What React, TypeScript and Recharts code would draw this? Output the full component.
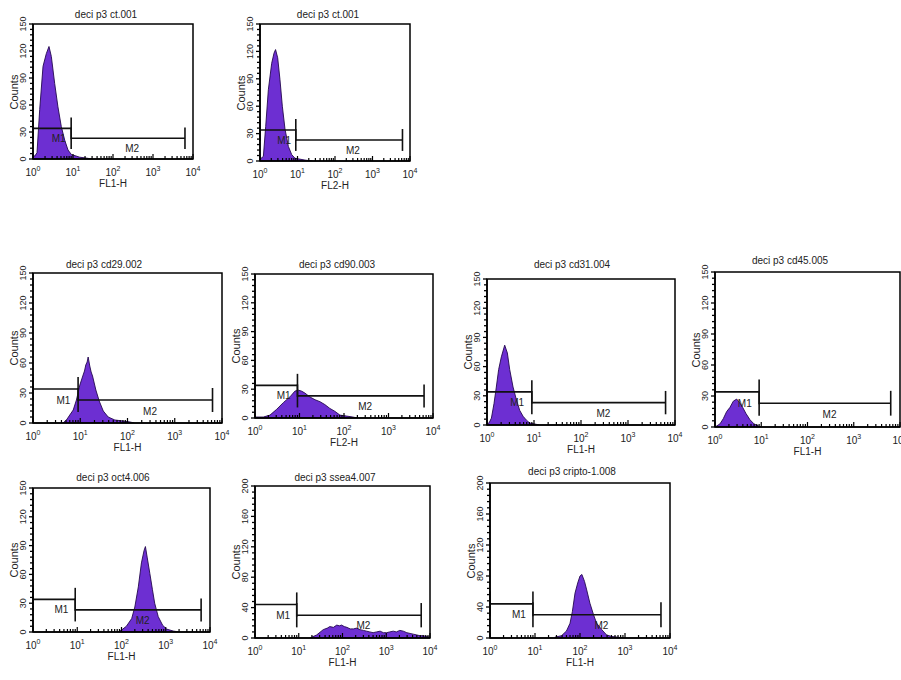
import React from 'react';
import { ComposedChart, Area, XAxis, YAxis, ReferenceLine, ReferenceArea, ReferenceDot } from 'recharts';

const FONT = "'Liberation Sans Narrow', 'Liberation Sans', Arial, sans-serif";
const FILL = '#6d2fd2';
const EDGE = '#24084f';

// ---------- data ----------
const panelTitles = [
  'deci p3 ct.001', 'deci p3 ct.001', 'deci p3 cd29.002', 'deci p3 cd90.003', 'deci p3 cd31.004',
  'deci p3 cd45.005', 'deci p3 oct4.006', 'deci p3 ssea4.007', 'deci p3 cripto-1.008',
];
const xAxisNames = ['FL1-H', 'FL2-H', 'FL1-H', 'FL2-H', 'FL1-H', 'FL1-H', 'FL1-H', 'FL1-H', 'FL1-H'];
const yMaxima = [150, 150, 150, 150, 150, 150, 150, 200, 200];
const markerNames = ['M1', 'M2'];
const markerStart = [1, 9];
const markerEnd = [9, 6300];

const ct001Fl1X = [1, 1.1, 1.26, 1.47, 1.78, 2.15, 2.51, 2.87, 3.48, 4.2, 5.1, 6.2, 7.5, 9.1, 14.7, 21.5, 30];
const ct001Fl1Y = [5, 3, 7, 55, 103, 117, 125, 114, 84, 58, 36, 21, 10, 5, 2, 1, 0];

const ct001Fl2X = [1, 1.23, 1.42, 1.67, 2.05, 2.36, 2.6, 2.96, 3.41, 3.94, 4.64, 5.7, 7.0, 8.57, 15.8, 25];
const ct001Fl2Y = [2, 5, 38, 78, 107, 118, 122, 113, 89, 60, 35, 16, 7, 3, 1, 0];

const cd29X = [4.3, 5.1, 6.0, 7.1, 8.3, 9.8, 11.5, 12.3, 13.1, 14.0, 14.7, 15.9, 17.0, 18.2, 21.4, 25.2, 30.7, 39, 54, 81, 113, 140];
const cd29Y = [0, 3, 8, 13, 23, 38, 48, 52, 58, 61, 66, 57, 51, 47, 33, 22, 12, 6, 3, 2, 1, 0];

const cd90X = [1, 1.54, 2.17, 3.06, 4.33, 6.1, 7.9, 9.4, 11.1, 13.2, 17, 22.4, 28.8, 37, 48, 62, 81, 115, 158, 200];
const cd90Y = [1, 1, 3, 9, 16, 22, 28, 29, 28, 26, 22, 19, 17, 14, 10, 7, 3, 2, 1, 0];

const cd31X = [1, 1.1, 1.24, 1.41, 1.58, 1.77, 2.02, 2.38, 2.71, 3.04, 3.58, 4.22, 4.97, 5.85, 6.89, 8.11, 10.4, 13];
const cd31Y = [1, 2, 7, 22, 39, 57, 70, 82, 74, 57, 39, 26, 15, 9, 5, 2, 1, 0];

const cd45X = [1, 1.09, 1.28, 1.51, 1.79, 2.11, 2.49, 2.94, 3.36, 3.96, 4.68, 5.71, 6.97, 8.65, 10];
const cd45Y = [0, 1, 3, 8, 15, 19, 25, 27, 24, 19, 13, 7, 3, 1, 0];

const oct4X = [84, 100, 129, 170, 200, 240, 282, 324, 347, 380, 437, 501, 562, 676, 851, 1047, 1479, 2000];
const oct4Y = [0, 2, 6, 14, 26, 47, 72, 85, 89, 78, 61, 44, 30, 16, 7, 3, 1, 0];

const ssea4X = [18, 25.7, 36.3, 45, 51.3, 62, 74, 85, 95, 110, 126, 150, 178, 210, 251, 300, 355, 420, 501, 600, 724, 860, 1023, 1200, 1445, 1700, 2042, 2450, 2951, 3500, 4169, 5000, 5888, 7000, 8318, 10000];
const ssea4Y = [0, 4, 11, 13, 15, 14, 17, 16, 17, 15, 14, 12, 12, 13, 11, 10, 9, 8, 7, 8, 9, 7, 7, 8, 9, 8, 10, 9, 7, 6, 5, 4, 3, 3, 2, 1];

const criptoX = [27.5, 38.9, 50, 60, 67.6, 77.6, 89, 100, 110, 126, 141, 166, 200, 234, 302, 389, 501, 708, 900];
const criptoY = [1, 3, 9, 19, 34, 58, 71, 80, 82, 73, 62, 45, 30, 19, 11, 4, 2, 1, 0];

const seriesX = [ct001Fl1X, ct001Fl2X, cd29X, cd90X, cd31X, cd45X, oct4X, ssea4X, criptoX];
const seriesY = [ct001Fl1Y, ct001Fl2Y, cd29Y, cd90Y, cd31Y, cd45Y, oct4Y, ssea4Y, criptoY];

// ---------- layout (plot boxes in page pixels) ----------
const boxes = [
  { L: 33, T: 24, R: 193, B: 159, tx: 106, ty: 15 },
  { L: 260, T: 24, R: 410, B: 161, tx: 328, ty: 15 },
  { L: 33, T: 273, R: 222, B: 423, tx: 104, ty: 265 },
  { L: 255, T: 274, R: 433, B: 418, tx: 337, ty: 265 },
  { L: 487, T: 279, R: 675, B: 425, tx: 572, ty: 265 },
  { L: 715, T: 272, R: 900, B: 427, tx: 790, ty: 261 },
  { L: 33, T: 488, R: 210, B: 632, tx: 113, ty: 478 },
  { L: 255, T: 486, R: 430, B: 638, tx: 335, ty: 478 },
  { L: 490, T: 483, R: 670, B: 638, tx: 572, ty: 472 },
];

const xTickList: number[] = [];
for (let d = 0; d < 4; d++) for (let k = 1; k <= 9; k++) xTickList.push(k * Math.pow(10, d));
xTickList.push(10000);

const XTick = (props: any) => {
  const { x, y, payload } = props;
  const v = payload.value;
  const lg = Math.log10(v);
  const exp = Math.round(lg);
  const major = Math.abs(lg - exp) < 1e-6;
  return (
    <g>
      <line x1={x} x2={x} y1={y} y2={y - (major ? 5 : 3)} stroke="#000" strokeWidth={1.2} />
      {major && (
        <text x={x} y={y + 17} textAnchor="middle" fontSize={10} fontFamily={FONT} fill="#222">
          10<tspan dy={-5} fontSize={7}>{exp}</tspan>
        </text>
      )}
    </g>
  );
};

const makeYTick = (majorStep: number) => (props: any) => {
  const { x, y, payload } = props;
  const v = payload.value;
  const major = v % majorStep === 0;
  return (
    <g>
      <line x1={x} x2={x - (major ? 4 : 3)} y1={y} y2={y} stroke="#000" strokeWidth={1.3} />
      {major && (
        <text transform={`translate(${x - 7},${y}) rotate(-90)`} textAnchor="middle" fontSize={9} fontFamily={FONT} fill="#222">
          {v}
        </text>
      )}
    </g>
  );
};

function Panel({ idx }: { idx: number }) {
  const box = boxes[idx];
  const yMax = yMaxima[idx];
  const majorStep = yMax === 150 ? 30 : 40;
  const minorStep = yMax === 150 ? 6 : 8;
  const yTickList: number[] = [];
  for (let v = 0; v <= yMax; v += minorStep) yTickList.push(v);
  const m1 = yMax === 150 ? 34 : 44;
  const m2 = yMax === 150 ? 23 : 30;
  const half = yMax === 150 ? 12 : 16;
  const labelDrop = yMax === 150 ? 11 : 14;
  const padL = 30, padT = 12, padR = 14, padB = 34;
  const w = box.R - box.L + padL + padR;
  const h = box.B - box.T + padT + padB;
  const data = seriesX[idx].map((x, i) => ({ x, y: seriesY[idx][i] }));
  const levels = [m1, m2];
  const YTick = makeYTick(majorStep);
  const line = { stroke: '#111', strokeWidth: 1.6, ifOverflow: 'visible' as const };
  return (
    <>
      <div style={{ position: 'absolute', left: box.L - padL, top: box.T - padT, width: w, height: h }}>
        <ComposedChart width={w} height={h} data={data} margin={{ top: padT, right: padR, bottom: 0, left: 0 }}>
          <XAxis dataKey="x" type="number" scale="log" domain={[1, 10000]} allowDataOverflow ticks={xTickList}
            interval={0} tick={<XTick />} tickSize={0} tickMargin={0} tickLine={false} height={padB}
            axisLine={{ stroke: '#000', strokeWidth: 1.6 }} />
          <YAxis type="number" domain={[0, yMax]} allowDataOverflow ticks={yTickList} interval={0}
            tick={<YTick />} tickSize={0} tickMargin={0} tickLine={false} width={padL}
            axisLine={{ stroke: '#000', strokeWidth: 1.6 }} />
          <Area dataKey="y" type="linear" fill={FILL} fillOpacity={1} stroke={EDGE} strokeWidth={0.9}
            isAnimationActive={false} dot={false} activeDot={false} />
          <ReferenceArea x1={1} x2={10000} y1={0} y2={yMax} fill="none" stroke="#000" strokeWidth={1.5} ifOverflow="visible" />
          {levels.map((lv, k) => (
            <ReferenceLine key={'h' + k} segment={[{ x: markerStart[k], y: lv }, { x: markerEnd[k], y: lv }]} {...line} />
          ))}
          {levels.map((lv, k) => (
            <ReferenceLine key={'a' + k} segment={[{ x: markerStart[k], y: lv - half }, { x: markerStart[k], y: lv + half }]} {...line} />
          ))}
          {levels.map((lv, k) => (
            <ReferenceLine key={'b' + k} segment={[{ x: markerEnd[k], y: lv - half }, { x: markerEnd[k], y: lv + half }]} {...line} />
          ))}
          <ReferenceDot x={4.4} y={m2} r={0} fill="none" stroke="none" ifOverflow="visible"
            label={{ value: markerNames[0], position: 'center', fontSize: 10, fill: '#222', fontFamily: FONT }} />
          <ReferenceDot x={300} y={m2 - labelDrop} r={0} fill="none" stroke="none" ifOverflow="visible"
            label={{ value: markerNames[1], position: 'center', fontSize: 10, fill: '#222', fontFamily: FONT }} />
        </ComposedChart>
      </div>
      <div style={{ position: 'absolute', left: box.tx - 80, top: box.ty - 7, width: 160, textAlign: 'center', fontSize: 10, lineHeight: '14px', fontFamily: FONT, color: '#222', whiteSpace: 'nowrap' }}>
        {panelTitles[idx]}
      </div>
      <div style={{ position: 'absolute', left: (box.L + box.R) / 2 - 40, top: box.B + 18, width: 80, textAlign: 'center', fontSize: 10, lineHeight: '14px', fontFamily: FONT, color: '#222' }}>
        {xAxisNames[idx]}
      </div>
      <div style={{ position: 'absolute', left: box.L - 19 - 30, top: (box.T + box.B) / 2 - 7, width: 60, textAlign: 'center', fontSize: 11, lineHeight: '14px', fontFamily: FONT, color: '#222', transform: 'rotate(-90deg)' }}>
        Counts
      </div>
    </>
  );
}

export default function App() {
  return (
    <div style={{ position: 'absolute', left: 0, top: 0, width: 901, height: 680, overflow: 'hidden', background: '#fff' }}>
      {boxes.map((_, i) => (
        <Panel key={i} idx={i} />
      ))}
    </div>
  );
}
